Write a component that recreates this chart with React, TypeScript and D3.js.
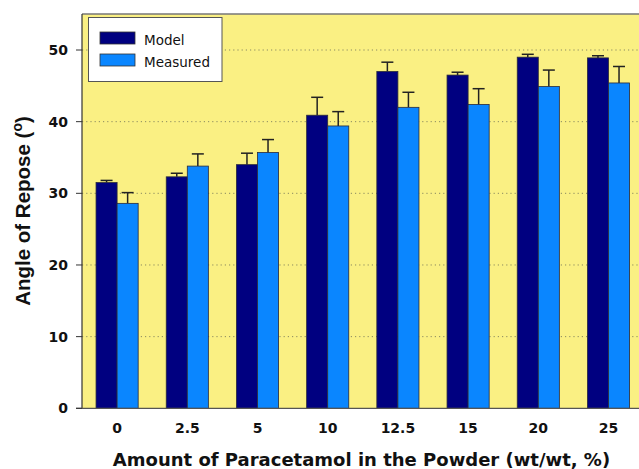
import React from "react";
import * as d3 from "d3";

const categories = ["0", "2.5", "5", "10", "12.5", "15", "20", "25"];
const series = ["Model", "Measured"];
const modelValues = [31.5, 32.3, 34.0, 40.9, 47.0, 46.5, 49.0, 48.9];
const modelErrors = [0.3, 0.5, 1.6, 2.5, 1.3, 0.4, 0.4, 0.3];
const measuredValues = [28.6, 33.8, 35.7, 39.4, 42.0, 42.4, 44.9, 45.4];
const measuredErrors = [1.5, 1.7, 1.8, 2.0, 2.1, 2.2, 2.3, 2.3];
const yTicks = [0, 10, 20, 30, 40, 50];

const W = 639;
const H = 469;
const left = 82;
const top = 14;
const bottom = 408.3;

export default function App() {
  const x0 = d3.scaleBand().domain(categories).range([left, 643.6]).paddingInner(0.4).paddingOuter(0.2);
  const x1 = d3.scaleBand().domain(series).range([0, x0.bandwidth()]);
  const y = d3.scaleLinear().domain([0, 55]).range([bottom, bottom - 55 * 7.166]);
  const colors: Record<string, string> = { Model: "#000080", Measured: "#0A86FF" };
  const data = categories.map((c, i) => ({
    c,
    bars: [
      { s: "Model", v: modelValues[i], e: modelErrors[i] },
      { s: "Measured", v: measuredValues[i], e: measuredErrors[i] },
    ],
  }));
  const capHalf = 6;
  return (
    <svg width={W} height={H} style={{ position: "absolute", left: 0, top: 0 }}>
      <rect x={0} y={0} width={W} height={H} fill="#fff" />
      <rect x={left} y={top} width={W - left} height={bottom - top} fill="#FAF083" />
      {yTicks.filter((t) => t > 0).map((t) => (
        <line key={t} x1={left} x2={W} y1={y(t)} y2={y(t)} stroke="#8a8a60" strokeWidth={1} strokeDasharray="1.2,3" />
      ))}
      {data.map((g) => (
        <g key={g.c} transform={`translate(${x0(g.c)},0)`}>
          {g.bars.map((b) => {
            const bx = x1(b.s)!;
            const cx = bx + x1.bandwidth() / 2;
            return (
              <g key={b.s}>
                <line x1={cx} x2={cx} y1={y(b.v)} y2={y(b.v + b.e)} stroke="#222" strokeWidth={1.5} />
                <line x1={cx - capHalf} x2={cx + capHalf} y1={y(b.v + b.e)} y2={y(b.v + b.e)} stroke="#222" strokeWidth={1.5} />
                <rect x={bx} y={y(b.v)} width={x1.bandwidth()} height={y(0) - y(b.v)} fill={colors[b.s]} stroke="#2a2a3a" strokeWidth={0.8} />
              </g>
            );
          })}
        </g>
      ))}
      <line x1={left} x2={W} y1={top} y2={top} stroke="#777" strokeWidth={1.5} />
      <line x1={left} x2={left} y1={top} y2={bottom} stroke="#333" strokeWidth={1.2} />
      <line x1={left - 6} x2={W} y1={bottom} y2={bottom} stroke="#555" strokeWidth={1.2} />
      {yTicks.map((t) => (
        <g key={t}>
          <line x1={left - 6} x2={left} y1={y(t)} y2={y(t)} stroke="#333" strokeWidth={1} />
          <text x={left - 14} y={y(t)} dy="0.36em" textAnchor="end" fontFamily="DejaVu Sans" fontWeight="bold" fontSize={14} fill="#111">{t}</text>
        </g>
      ))}
      {categories.map((c) => (
        <text key={c} x={x0(c)! + x0.bandwidth() / 2} y={433} textAnchor="middle" fontFamily="DejaVu Sans" fontWeight="bold" fontSize={14} fill="#111">{c}</text>
      ))}
      <text x={361.5} y={466} textAnchor="middle" fontFamily="DejaVu Sans" fontWeight="bold" fontSize={18} fill="#111">Amount of Paracetamol in the Powder (wt/wt, %)</text>
      <text transform="translate(30,211) rotate(-90)" textAnchor="middle" fontFamily="Liberation Sans" fontWeight="bold" fontSize={20.5} fill="#111">
        Angle of Repose (<tspan dy={-8} fontSize={14}>o</tspan><tspan dy={8}>)</tspan>
      </text>
      <rect x={88.5} y={17.5} width={133.5} height={64} fill="#fff" stroke="#555" strokeWidth={1} />
      {series.map((s, i) => (
        <g key={s}>
          <rect x={100} y={32 + i * 22} width={35} height={12} fill={colors[s]} stroke="#333" strokeWidth={0.8} />
          <text x={144} y={44.5 + i * 22} fontFamily="DejaVu Sans" fontSize={13.5} fill="#111">{s}</text>
        </g>
      ))}
    </svg>
  );
}
